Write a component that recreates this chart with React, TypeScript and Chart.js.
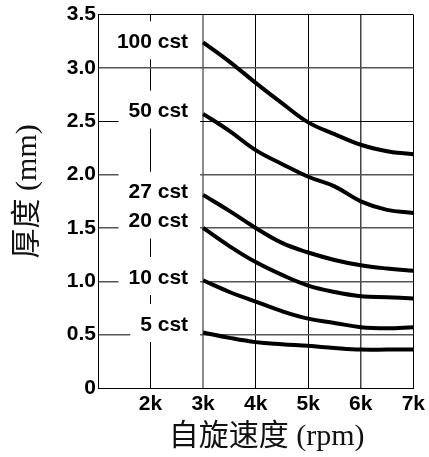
import React, { useEffect, useRef } from 'react';
import { Chart, registerables } from 'chart.js';

Chart.register(...registerables);

// Spin speed (thousands of rpm) at which the curves were read
const rpm = [3, 3.5, 4, 4.5, 5, 5.5, 6, 6.5, 7];

// Film thickness (mm) per viscosity
const cst100 = [3.24, 3.06, 2.86, 2.67, 2.49, 2.38, 2.28, 2.22, 2.19];
const cst50 = [2.57, 2.41, 2.23, 2.1, 1.98, 1.89, 1.75, 1.67, 1.64];
const cst27 = [1.81, 1.66, 1.5, 1.36, 1.27, 1.2, 1.15, 1.12, 1.1];
const cst20 = [1.5, 1.33, 1.18, 1.06, 0.96, 0.9, 0.86, 0.85, 0.84];
const cst10 = [1.01, 0.9, 0.81, 0.72, 0.65, 0.61, 0.57, 0.56, 0.57];
const cst5 = [0.52, 0.47, 0.43, 0.41, 0.395, 0.375, 0.36, 0.36, 0.36];

const seriesNames = ['100 cst', '50 cst', '27 cst', '20 cst', '10 cst', '5 cst'];
const seriesValues = [cst100, cst50, cst27, cst20, cst10, cst5];
// value (mm) at which each curve's name label sits
const labelValues = [3.25, 2.6, 1.84, 1.57, 1.04, 0.6];

const xTicks = [1, 2, 3, 4, 5, 6, 7];
const yTicks = [0, 0.5, 1, 1.5, 2, 2.5, 3, 3.5];

const xTitle = '自旋速度 (rpm)';
const yTitle = '厚度 (mm)';

const TICK_FONT = '"Liberation Sans", Arial, sans-serif';
const TITLE_FONT = '30px "Liberation Serif", "Noto Sans CJK SC", serif';

const xGridColor = (v: number) => (v === 3 ? '#8a8a8a' : v === 6 ? '#444' : '#000');
const xGridWidth = (v: number) => (v === 3 ? 2 : v === 6 ? 1.5 : 1);
const yGridColor = (v: number) => (v === 2.5 || v === 3.5 || v === 0 ? '#000' : '#555');
const yGridWidth = (v: number) => (v === 2.5 || v === 3.5 || v === 0 ? 1 : 1.5);

const decorPlugin = {
  id: 'decor',
  beforeDatasetsDraw(chart: any) {
    const { ctx, scales } = chart;
    const x = scales.x;
    const y = scales.y;
    ctx.save();
    ctx.font = `bold 21px ${TICK_FONT}`;
    ctx.textAlign = 'right';
    ctx.textBaseline = 'middle';
    const startPx = x.getPixelForValue(rpm[0]);
    const textRight = startPx - 15;
    // white boxes behind the labels
    seriesNames.forEach((name, i) => {
      const cy = y.getPixelForValue(labelValues[i]);
      const w = ctx.measureText(name).width;
      const left = textRight - w - 10;
      ctx.fillStyle = '#fff';
      ctx.fillRect(left, cy - 20, startPx - 3 - left, 38);
    });
    ctx.fillStyle = '#000';
    seriesNames.forEach((name, i) => {
      const cy = y.getPixelForValue(labelValues[i]);
      ctx.fillText(name, textRight, cy + 1);
    });
    ctx.restore();
  },
  afterDraw(chart: any) {
    const { ctx, chartArea } = chart;
    ctx.save();
    ctx.fillStyle = '#111';
    ctx.font = TITLE_FONT;
    ctx.textAlign = 'center';
    ctx.textBaseline = 'alphabetic';
    const cx = (chartArea.left + chartArea.right) / 2 + 11;
    ctx.fillText(xTitle, cx, chartArea.bottom + 57);
    const cy = (chartArea.top + chartArea.bottom) / 2 - 10;
    ctx.translate(35.5, cy);
    ctx.rotate(-Math.PI / 2);
    ctx.fillText(yTitle, 0, 0);
    ctx.restore();
  },
};

export default function App() {
  const canvasRef = useRef<HTMLCanvasElement | null>(null);

  useEffect(() => {
    if (!canvasRef.current) return;
    const datasets = seriesNames.map((name, i) => ({
      label: name,
      data: rpm.map((r, j) => ({ x: r, y: seriesValues[i][j] })),
      borderColor: '#000',
      backgroundColor: '#000',
      borderWidth: 4,
      pointRadius: 0,
      fill: false,
      tension: 0.4,
    }));

    const chart = new Chart(canvasRef.current, {
      type: 'line',
      data: { datasets },
      options: {
        responsive: false,
        animation: false,
        layout: { padding: { top: 13, right: 11, left: 0, bottom: 0 } },
        plugins: {
          legend: { display: false },
          tooltip: { enabled: false },
        },
        scales: {
          x: {
            type: 'linear',
            min: 1,
            max: 7,
            afterBuildTicks: (s: any) => {
              s.ticks = xTicks.map((v) => ({ value: v }));
            },
            afterFit: (s: any) => {
              s.height = 69;
            },
            grid: {
              drawTicks: false,
              color: (c: any) => xGridColor(c.tick?.value),
              lineWidth: (c: any) => xGridWidth(c.tick?.value),
            },
            border: { display: true, color: '#000', width: 1 },
            ticks: {
              padding: 4,
              color: '#000',
              font: { family: TICK_FONT, size: 21, weight: 'bold' },
              maxRotation: 0,
              autoSkip: false,
              callback: (v: any) => (v === 1 ? '' : `${v}k`),
            },
          },
          y: {
            type: 'linear',
            min: 0,
            max: 3.5,
            afterBuildTicks: (s: any) => {
              s.ticks = yTicks.map((v) => ({ value: v }));
            },
            afterFit: (s: any) => {
              s.width = 98;
            },
            grid: {
              drawTicks: false,
              color: (c: any) => yGridColor(c.tick?.value),
              lineWidth: (c: any) => yGridWidth(c.tick?.value),
            },
            border: { display: true, color: '#000', width: 1 },
            ticks: {
              padding: 2,
              color: '#000',
              font: { family: TICK_FONT, size: 21, weight: 'bold' },
              autoSkip: false,
              callback: (v: any) => (v === 0 ? '0' : Number(v).toFixed(1)),
            },
          },
        },
      },
      plugins: [decorPlugin],
    });
    return () => chart.destroy();
  }, []);

  return (
    <div style={{ position: 'fixed', left: 0, top: 0, width: 429, height: 457, background: '#fff' }}>
      <canvas ref={canvasRef} width={429} height={457} style={{ display: 'block' }} />
    </div>
  );
}
